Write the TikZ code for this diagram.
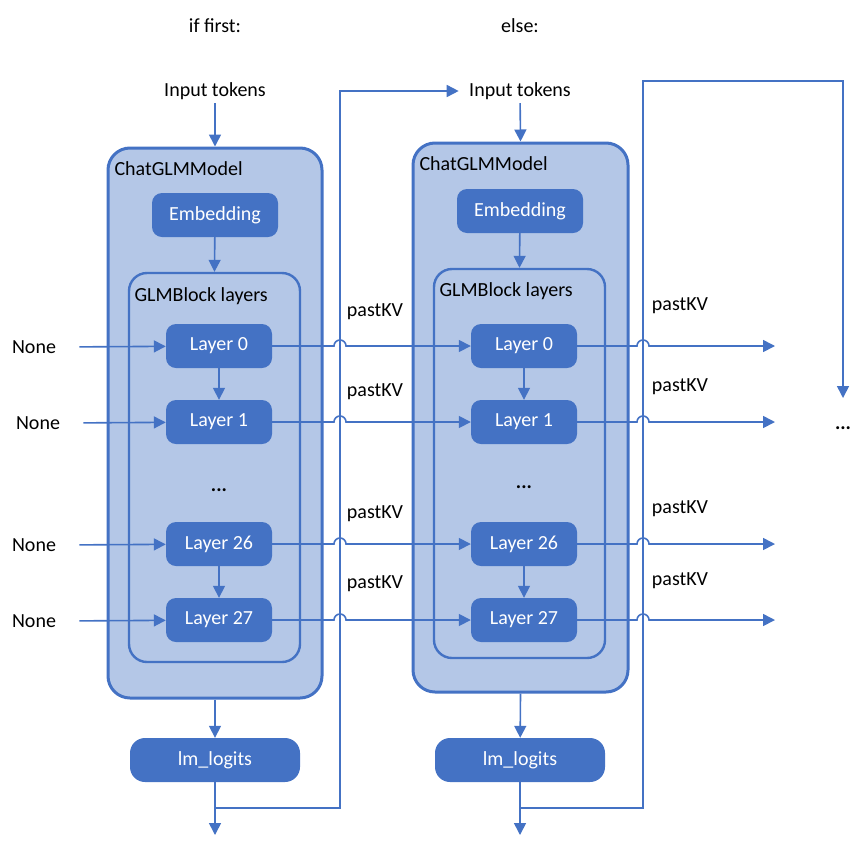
\documentclass[tikz,border=0pt]{standalone}
\usepackage{fontspec}
\setmainfont{Carlito}
\usetikzlibrary{arrows.meta,calc}
\definecolor{glmblue}{HTML}{4472C4}
\definecolor{glmlight}{HTML}{B4C7E7}
\tikzset{
  line/.style={glmblue,line width=1.6pt},
  arr/.style={line,-{Triangle[length=12pt,width=12pt]}},
  outer/.style={draw=glmblue,line width=3pt,fill=glmlight,rounded corners=22pt},
  inner/.style={draw=glmblue,line width=2.4pt,fill=glmlight,rounded corners=18pt},
  blk/.style={fill=glmblue,text=white,rounded corners=10pt,minimum height=44pt},
}
\begin{document}
\begin{tikzpicture}[x=1pt,y=-1pt,font=\fontsize{20}{24}\selectfont]
\useasboundingbox (0,0) rectangle (866,841);
\node (ifA) at (215,26) {if first:};
\node (ifB) at (520,26) {else:};
\node (inA) at (215,91) {Input tokens};
\node (inB) at (520,91) {Input tokens};
% first pass
\node[outer,minimum width=214pt,minimum height=550pt] (mA) at (215,423) {};
\node[anchor=west] (mAt) at (111,169) {ChatGLMModel};
\node[blk,minimum width=126pt] (eA) at (215,215) {Embedding};
\node[inner,minimum width=171pt,minimum height=389pt] (gA) at (214.5,467.5) {};
\node[anchor=west] (gAt) at (131,296) {GLMBlock layers};
\foreach \n/\y in {0/346,1/422,26/544,27/620}
  \node[blk,minimum width=106pt] (lA\n) at (219,\y) {Layer \n};
\node (dA) at (219,490) {\textbf{...}};
\node[blk,minimum width=170pt,rounded corners=15pt] (oA) at (215,760) {lm\_logits};
% next passes
\node[outer,minimum width=215pt,minimum height=549pt] (mB) at (520.5,417.5) {};
\node[anchor=west] (mBt) at (416,164) {ChatGLMModel};
\node[blk,minimum width=126pt] (eB) at (520,211) {Embedding};
\node[inner,minimum width=171pt,minimum height=389pt] (gB) at (519.5,463.5) {};
\node[anchor=west] (gBt) at (436,291) {GLMBlock layers};
\foreach \n/\y in {0/346,1/422,26/544,27/620}
  \node[blk,minimum width=106pt] (lB\n) at (524,\y) {Layer \n};
\node (dB) at (524,487) {\textbf{...}};
\node[blk,minimum width=170pt,rounded corners=15pt] (oB) at (520,760) {lm\_logits};
\node (dR) at (843,428) {\textbf{...}};
\foreach \n/\x/\y in {0/34/347,1/38/423,26/34/545,27/34/621}
  \node (nA\n) at (\x,\y) {None};
\foreach \n/\ya/\yb in {0/312/306,1/392/387,26/514/509,27/584/581}{
  \node (kvA\n) at (375,\ya) {pastKV};
  \node (kvB\n) at (680,\yb) {pastKV};
}
\coordinate (upA) at (340,808);
\coordinate (upB) at (643,808);
\coordinate (topB) at (843,81);
\coordinate (tipD) at (843,398);
\coordinate (tipX) at (775,0);
\coordinate (endA) at (215,835);
\coordinate (endB) at (520,835);
\draw[arr] (inA) -- (mA.north);
\draw[arr] (inB) -- (mB.north);
\draw[arr] (eA) -- (gA.north);
\draw[arr] (eB) -- (gB.north);
\draw[arr] (lA0) -- (lA1);
\draw[arr] (lA26) -- (lA27);
\draw[arr] (lB0) -- (lB1);
\draw[arr] (lB26) -- (lB27);
\draw[arr] (mA.south) -- (oA);
\draw[arr] (mB.south) -- (oB);
\draw[arr] (oA) -- (endA);
\draw[arr] (oB) -- (endB);
\draw[arr,shorten >=7pt] (oA.south |- upA) -- (upA) |- (inB.west);
\draw[arr] (oB.south |- upB) -- (upB) |- (topB) -- (tipD);
\foreach \n in {0,1,26,27}{
  \draw[arr,shorten <=20pt] (nA\n.east) -- (lA\n);
  \draw[arr] (lA\n) -- ($(lA\n.east -| upA)+(-6,0)$) arc[start angle=180,end angle=0,radius=6pt] -- (lB\n);
  \draw[arr] (lB\n) -- ($(lB\n.east -| upB)+(-6,0)$) arc[start angle=180,end angle=0,radius=6pt] -- (lB\n -| tipX);
}
\end{tikzpicture}
\end{document}
